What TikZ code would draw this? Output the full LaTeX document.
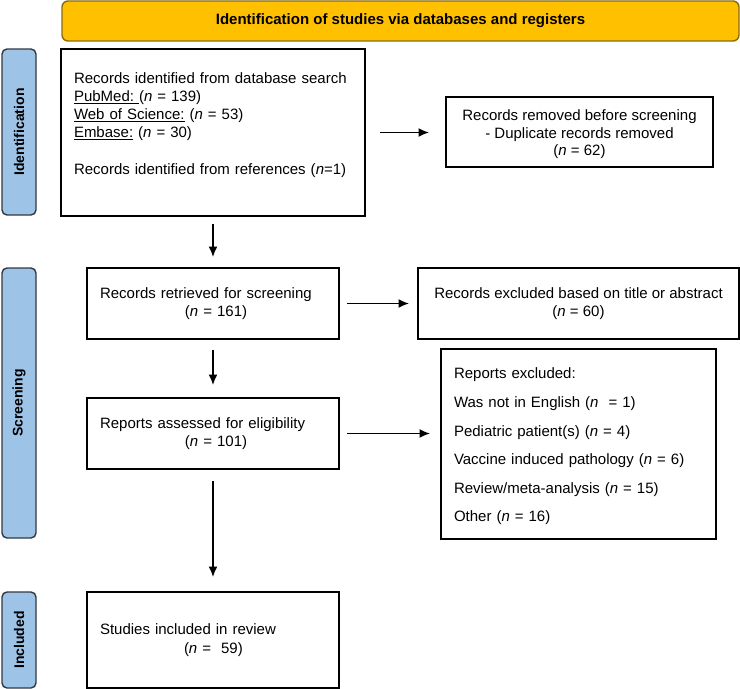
\documentclass[tikz,border=0pt]{standalone}
\usepackage{fontspec}
\setmainfont{Liberation Sans}
\usetikzlibrary{arrows.meta}

\definecolor{bannerfill}{RGB}{255,192,0}
\definecolor{bannerline}{RGB}{140,108,16}
\definecolor{sidefill}{RGB}{157,195,230}
\definecolor{sideline}{RGB}{50,56,66}

\begin{document}
\begin{tikzpicture}[x=1pt,y=-1pt,
	>={Latex[length=10.5pt,width=9pt]},
	box/.style={draw,line width=1.7pt,inner xsep=13pt,inner ysep=0pt,font=\fontsize{15}{18.3}\selectfont},
	sidebox/.style={draw=sideline,fill=sidefill,line width=1.4pt,rounded corners=5pt,rotate=90,minimum height=34pt,inner sep=0pt,font=\fontsize{14}{16}\selectfont\bfseries},
	flow/.style={->,line width=1.8pt}]
	
	\useasboundingbox (0,0) rectangle (740,689);
	
	% header
	\node[draw=bannerline,fill=bannerfill,line width=1.4pt,rounded corners=6pt,minimum width=677pt,minimum height=40pt,inner sep=0pt,font=\fontsize{15}{18}\selectfont\bfseries] (banner) at (400.5,21) {Identification of studies via databases and registers};
	
	% phases
	\node[sidebox,minimum width=166pt] (sideid) at (19,132) {Identification};
	\node[sidebox,minimum width=270pt] (sidescr) at (19,403) {Screening};
	\node[sidebox,minimum width=96pt] (sideinc) at (19,640) {Included};
	
	\node[box,text width=278pt,align=left,minimum height=167pt] (records) at (213,132.5) {Records identified from database search\\
		\underline{PubMed:\ }(\textit{n} = 139)\\
		\underline{Web of Science:} (\textit{n} = 53)\\
		\underline{Embase:} (\textit{n} = 30)\\[18.3pt]
		Records identified from references (\textit{n}=1)\\ ~};
	\node[box,align=center,minimum width=267pt,minimum height=70pt,font=\fontsize{15}{17.5}\selectfont] (removed) at (579.5,132) {\rule{0pt}{16pt}Records removed before screening\\ - Duplicate records removed\\ (\textit{n} = 62)};
	
	\node[box,text width=226pt,align=left,minimum height=71pt] (retrieved) at (213,303.5) {Records retrieved for screening\\ \hspace*{85pt}(\textit{n} = 161)};
	\node[box,align=center,minimum width=321pt,minimum height=71pt] (excl1) at (578.5,303.5) {Records excluded based on title or abstract\\ (\textit{n} = 60)};
	
	\node[box,text width=226pt,align=left,minimum height=71pt] (assessed) at (213,433.5) {Reports assessed for eligibility\\ \hspace*{85pt}(\textit{n} = 101)};
	\node[box,text width=249pt,align=left,minimum height=190pt,font=\fontsize{15}{28.6}\selectfont] (excl2) at (578.5,444) {\rule{0pt}{16pt}Reports excluded:\\
		Was not in English (\textit{n}\ \ = 1)\\
		Pediatric patient(s) (\textit{n} = 4)\\
		Vaccine induced pathology (\textit{n} = 6)\\
		Review/meta-analysis (\textit{n} = 15)\\
		Other (\textit{n} = 16)};
	
	\node[box,text width=226pt,align=left,minimum height=96pt] (studies) at (213,640) {Studies included in review\\ \hspace*{84pt}(\textit{n} =\ \ 59)};
	
	% arrows
	\draw[flow,shorten <=14pt,shorten >=16pt] (records.east) -- (removed.west |- records.east);
	\draw[flow,shorten <=7pt,shorten >=10pt] (records.south) -- (retrieved.north);
	\draw[flow,shorten <=7pt,shorten >=8pt] (retrieved.east) -- (excl1.west);
	\draw[flow,shorten <=10pt,shorten >=12pt] (retrieved.south) -- (assessed.north);
	\draw[flow,shorten <=7pt,shorten >=10pt] (assessed.east) -- (assessed.east -| excl2.west);
	\draw[flow,shorten <=11pt,shorten >=14pt] (assessed.south) -- (studies.north);
\end{tikzpicture}
\end{document}
